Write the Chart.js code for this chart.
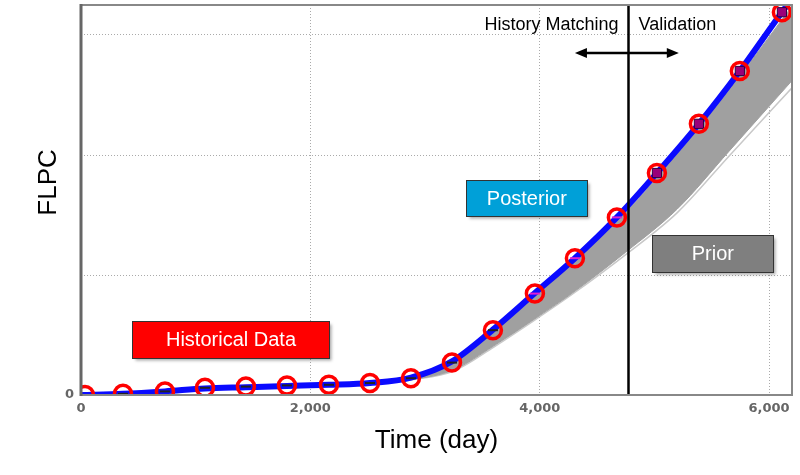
<!DOCTYPE html>
<html lang="en">
<head>
<meta charset="UTF-8">
<script src="https://cdn.jsdelivr.net/npm/chart.js@4"></script>
<title>FLPC history matching</title>
<style>
  html, body { margin: 0; padding: 0; background: #fff; }
  #wrap { width: 800px; height: 475px; }
</style>
</head>
<body>
<div id="wrap"><canvas id="myChart"></canvas></div>
<script>
// values (time in days, FLPC in grid units)
var obsDays   = [35, 366, 732, 1081, 1438, 1796, 2162, 2520, 2877, 3235, 3592, 3958, 4307, 4673, 5022, 5388, 5745, 6112];
var obsValues = [0, 0.01, 0.03, 0.06, 0.07, 0.08, 0.085, 0.10, 0.14, 0.27, 0.54, 0.845, 1.14, 1.48, 1.85, 2.26, 2.70, 3.19];

var postDays   = [0, 366, 732, 1081, 1438, 1796, 2162, 2520, 2877, 3235, 3592, 3958, 4307, 4673, 5022, 5388, 5745, 6112, 6200];
var postValues = [0, 0.01, 0.03, 0.055, 0.065, 0.075, 0.085, 0.10, 0.145, 0.28, 0.545, 0.85, 1.14, 1.48, 1.85, 2.26, 2.70, 3.19, 3.30];

var priorDays = [2600, 2900, 3250, 3600, 3950, 4300, 4750, 5200, 5650, 6200];
var priorHigh = [0.10, 0.14, 0.265, 0.53, 0.82, 1.11, 1.52, 2.01, 2.54, 3.24];
var priorLow  = [0.10, 0.13, 0.21, 0.41, 0.63, 0.86, 1.19, 1.55, 2.03, 2.62];
var priorEdge = [0.10, 0.13, 0.20, 0.40, 0.62, 0.85, 1.17, 1.52, 1.99, 2.56];

var xTicks = [0, 2000, 4000, 6000];
var splitDay = 4769;

function pts(xs, ys) {
    return xs.map(function (x, i) { return { x: x, y: ys[i] }; });
}

// marker style inside the red circles
var markStyle = obsDays.map(function (d) { return d < 5000 ? 'line' : 'rect'; });
var markColor = obsDays.map(function (d) { return d < 3900 ? '#222' : (d < 5000 ? '#e020d0' : '#9a007a'); });
var markBorder = obsDays.map(function (d, i) { return d < 5000 ? markColor[i] : '#300040'; });

var boxes = [
    { text: 'Historical Data', day: 1308, val: 0.46, w: 197, h: 37, color: '#ff0000' },
    { text: 'Posterior', day: 3888, val: 1.64, w: 121, h: 36, color: '#00a0d8' },
    { text: 'Prior', day: 5510, val: 1.18, w: 121, h: 37, color: '#7f7f7f' }
];

function noPad(s) {
    s.paddingTop = 0; s.paddingBottom = 0; s.paddingLeft = 0; s.paddingRight = 0;
}

var decor = {
    id: 'decor',
    afterDatasetsDraw: function (chart) {
        var c = chart.ctx, a = chart.chartArea;
        var xs = chart.scales.x, ys = chart.scales.y;
        c.save();
        // split line
        var sx = Math.round(xs.getPixelForValue(splitDay)) + 0.5;
        c.strokeStyle = '#000';
        c.lineWidth = 2.5;
        c.beginPath(); c.moveTo(sx, a.top); c.lineTo(sx, a.bottom); c.stroke();
        // arrow
        var ay = ys.getPixelForValue(2.85);
        var x1 = xs.getPixelForValue(4307), x2 = xs.getPixelForValue(5213);
        c.lineWidth = 2.5;
        c.beginPath(); c.moveTo(x1 + 8, ay); c.lineTo(x2 - 8, ay); c.stroke();
        c.fillStyle = '#000';
        c.beginPath(); c.moveTo(x1, ay); c.lineTo(x1 + 12, ay - 5); c.lineTo(x1 + 12, ay + 5); c.closePath(); c.fill();
        c.beginPath(); c.moveTo(x2, ay); c.lineTo(x2 - 12, ay - 5); c.lineTo(x2 - 12, ay + 5); c.closePath(); c.fill();
        // phase labels
        c.font = '18px "Liberation Sans", Arial, sans-serif';
        c.textBaseline = 'middle';
        var ty = ys.getPixelForValue(3.08);
        c.textAlign = 'right'; c.fillText('History Matching', sx - 10, ty);
        c.textAlign = 'left'; c.fillText('Validation', sx + 10, ty);
        // label boxes
        c.font = '20px "Liberation Sans", Arial, sans-serif';
        c.textAlign = 'center';
        boxes.forEach(function (b) {
            var cx = xs.getPixelForValue(b.day), cy = ys.getPixelForValue(b.val);
            var l = Math.round(cx - b.w / 2) + 0.5, t = Math.round(cy - b.h / 2) + 0.5;
            c.save();
            c.shadowColor = 'rgba(0,0,0,0.35)';
            c.shadowOffsetX = 2; c.shadowOffsetY = 2; c.shadowBlur = 3;
            c.fillStyle = b.color;
            c.fillRect(l, t, b.w, b.h);
            c.restore();
            c.strokeStyle = '#333';
            c.lineWidth = 1;
            c.strokeRect(l, t, b.w, b.h);
            c.fillStyle = '#fff';
            c.fillText(b.text, cx, cy + 1);
        });
        // frame
        c.strokeStyle = '#888';
        c.lineWidth = 2;
        c.strokeRect(a.left, a.top, a.right - a.left, a.bottom - a.top);
        c.strokeStyle = '#666';
        c.lineWidth = 3;
        c.beginPath(); c.moveTo(a.left, a.top - 1); c.lineTo(a.left, a.bottom + 1); c.stroke();
        // y axis title, sits a little above the middle as in the figure
        c.fillStyle = '#000';
        c.font = '26px "Liberation Sans", Arial, sans-serif';
        c.textAlign = 'center';
        c.translate(49, a.top + (a.bottom - a.top) * 0.455);
        c.rotate(-Math.PI / 2);
        c.fillText('FLPC', 0, 0);
        c.restore();
    }
};

new Chart(document.getElementById('myChart'), {
    type: 'scatter',
    data: {
        datasets: [
            {
                label: 'Prior edge',
                order: 6,
                data: pts(priorDays, priorEdge),
                showLine: true, borderColor: '#c8c8c8', borderWidth: 1.5,
                pointRadius: 0, cubicInterpolationMode: 'monotone', fill: false
            },
            {
                label: 'Prior low',
                order: 5,
                data: pts(priorDays, priorLow),
                showLine: true, borderColor: '#a0a0a0', borderWidth: 1,
                pointRadius: 0, cubicInterpolationMode: 'monotone', fill: false
            },
            {
                label: 'Prior',
                order: 4,
                data: pts(priorDays, priorHigh),
                showLine: true, borderColor: '#a0a0a0', borderWidth: 1,
                backgroundColor: '#a0a0a0',
                pointRadius: 0, cubicInterpolationMode: 'monotone', fill: '-1'
            },
            {
                label: 'Posterior',
                order: 3,
                data: pts(postDays, postValues),
                showLine: true, borderColor: '#0a0aff', borderWidth: 6,
                pointRadius: 0, cubicInterpolationMode: 'monotone', fill: false
            },
            {
                label: 'Measured',
                order: 2,
                data: pts(obsDays, obsValues),
                showLine: false,
                pointStyle: markStyle,
                pointRadius: obsDays.map(function (d) { return d < 5000 ? 5 : 6.5; }),
                pointBackgroundColor: markColor,
                pointBorderColor: markBorder,
                pointBorderWidth: obsDays.map(function (d) { return d < 5000 ? 2 : 1; })
            },
            {
                label: 'Historical Data',
                order: 1,
                data: pts(obsDays, obsValues),
                showLine: false,
                pointStyle: 'circle',
                pointRadius: 8.5,
                pointBackgroundColor: 'rgba(0,0,0,0)',
                pointBorderColor: '#ff0000',
                pointBorderWidth: 3.5
            }
        ]
    },
    options: {
        responsive: true,
        maintainAspectRatio: false,
        animation: false,
        layout: { autoPadding: false, padding: { top: 5, right: 8, left: 0, bottom: 0 } },
        plugins: {
            legend: { display: false },
            tooltip: { enabled: false }
        },
        scales: {
            x: {
                type: 'linear',
                min: 0, max: 6200,
                afterFit: function (s) { s.height = 80; noPad(s); },
                afterBuildTicks: function (s) {
                    s.ticks = xTicks.concat([6200]).map(function (v) { return { value: v }; });
                },
                ticks: {
                    padding: 6,
                    color: '#666',
                    font: { family: '"DejaVu Sans", Verdana, sans-serif', size: 13, weight: 'bold' },
                    maxRotation: 0,
                    callback: function (v) { return xTicks.indexOf(v) >= 0 ? v.toLocaleString('en-US') : ''; }
                },
                grid: { color: '#aaa', lineWidth: 1, drawTicks: false },
                border: { display: false, dash: [1, 2] },
                title: {
                    display: true, text: 'Time (day)', color: '#000',
                    font: { family: '"Liberation Sans", Arial, sans-serif', size: 26 },
                    padding: { top: 0, bottom: 19 }
                }
            },
            y: {
                type: 'linear',
                min: 0, max: 3.25,
                afterFit: function (s) { s.width = 81; noPad(s); },
                ticks: {
                    stepSize: 1,
                    padding: 7,
                    color: '#666',
                    font: { family: '"DejaVu Sans", Verdana, sans-serif', size: 13, weight: 'bold' },
                    callback: function (v) { return v === 0 ? '0' : ''; }
                },
                grid: { color: '#aaa', lineWidth: 1, drawTicks: false },
                border: { display: false, dash: [1, 2] },
                title: { display: false }
            }
        }
    },
    plugins: [decor]
});
</script>
</body>
</html>
